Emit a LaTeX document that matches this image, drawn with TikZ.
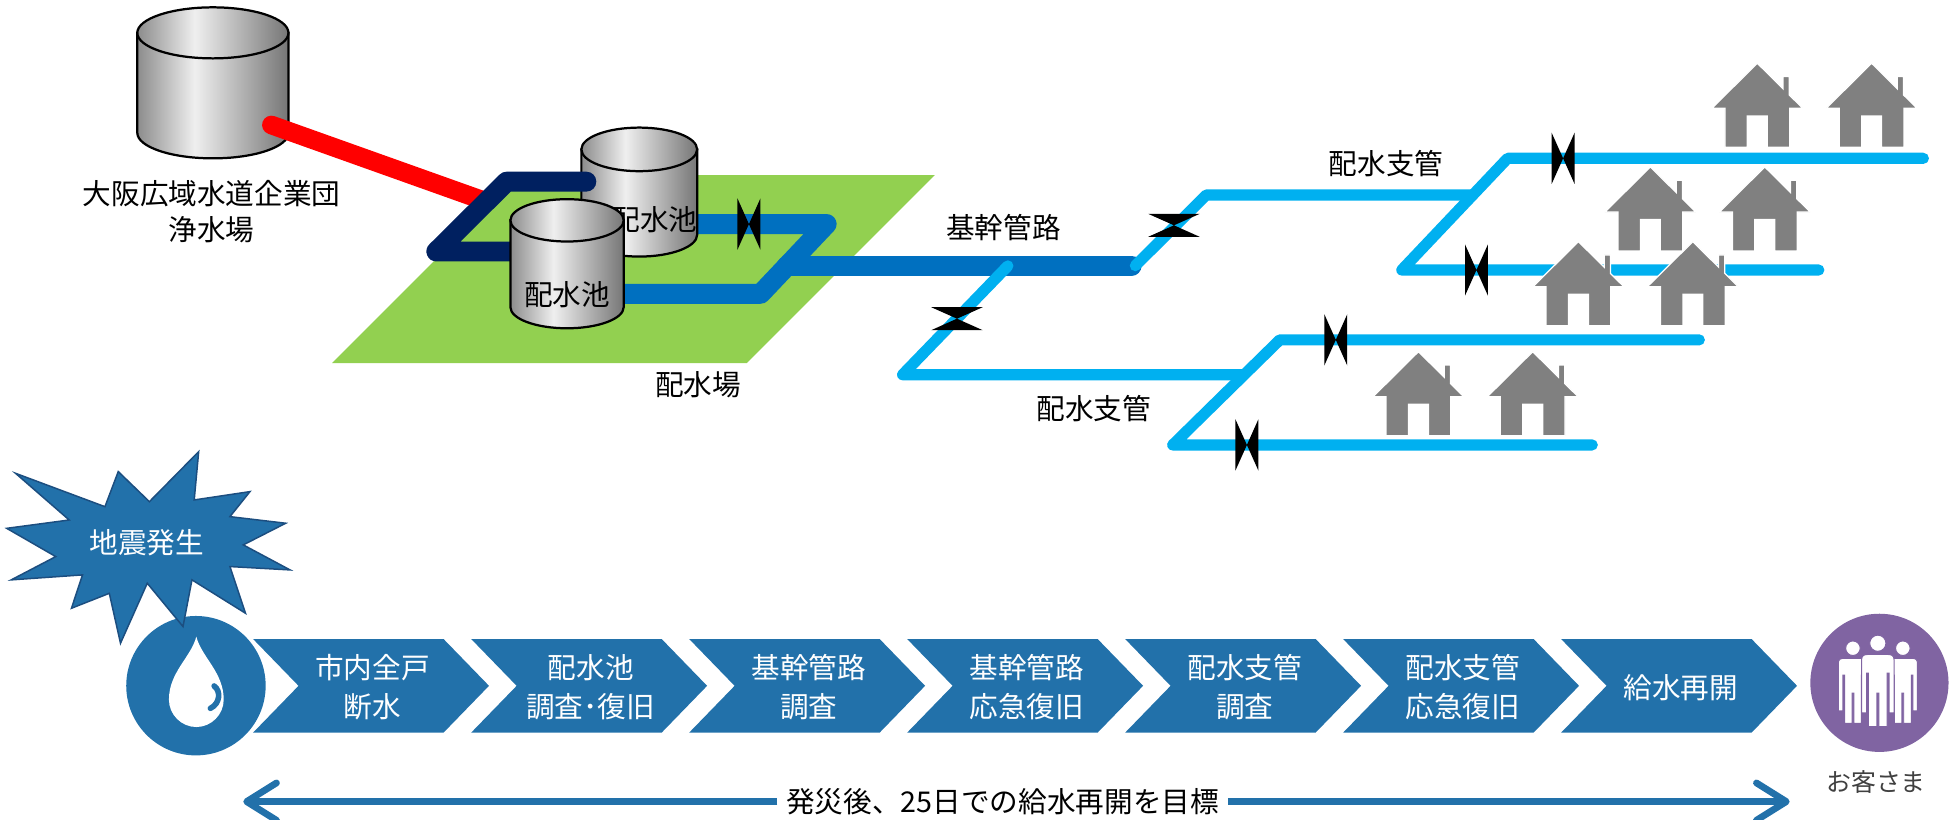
\documentclass[tikz,border=0pt]{standalone}
\usepackage{fontspec}
\setmainfont{Noto Sans CJK JP}
\usetikzlibrary{arrows.meta}

\definecolor{navypipe}{HTML}{002060}
\definecolor{mainpipe}{HTML}{0070C0}
\definecolor{branchpipe}{HTML}{00B0F0}
\definecolor{sitegreen}{HTML}{92D050}
\definecolor{flowblue}{RGB}{34,113,170}
\definecolor{starline}{RGB}{28,78,128}
\definecolor{custpurple}{HTML}{8064A2}
\definecolor{housegray}{HTML}{808080}
\definecolor{tankdark}{HTML}{8C8C8C}
\definecolor{tanklight}{HTML}{EFEFEF}
\definecolor{tankshadow}{HTML}{767676}

\pgfdeclarehorizontalshading{tankshade}{100bp}{color(0bp)=(tankdark); color(25bp)=(tankdark); color(44bp)=(tanklight); color(75bp)=(tankshadow); color(100bp)=(tankshadow)}

% #1 centre x, #2 top y, #3 bottom y, #4 x radius, #5 y radius
\newcommand{\drawtank}[5]{%
  \shadedraw[shading=tankshade, draw=black, line width=1.8pt]
    (#1-#4,#2) -- (#1-#4,#3) arc[start angle=180, end angle=360, x radius=#4pt, y radius=#5pt] -- (#1+#4,#2) -- cycle;
  \shadedraw[shading=tankshade, draw=black, line width=1.8pt] (#1,#2) ellipse[x radius=#4pt, y radius=#5pt];
}

\tikzset{
  house/.pic={
    \path[fill=housegray, draw=white, line width=1pt]
      (0,-67.5) -- (20.7,-47) -- (20.7,-56.8) -- (25.7,-56.8) -- (25.7,-42) -- (36.5,-31.3)
      -- (26,-31.3) -- (26,0) -- (8,0) -- (8,-25.2) -- (-8,-25.2) -- (-8,0) -- (-26,0)
      -- (-26,-31.3) -- (-36.5,-31.3) -- cycle;
  },
  valve/.pic={
    \fill[black] (-9.2,-20.6) -- (0,0) -- (-9.2,20.6) -- cycle
                 (9.2,-20.6) -- (0,0) -- (9.2,20.6) -- cycle;
  },
  person/.pic={
    \path[fill=white, draw=custpurple, line width=0.8pt]
      (0,0) circle[radius=6.5pt]
      (-13,56) -- (-13,13) .. controls (-13,10) and (-11,9) .. (-8,9) -- (8,9)
      .. controls (11,9) and (13,10) .. (13,13) -- (13,56) -- (9,56) -- (9,24) -- (7.5,24)
      -- (7.5,67) -- (0.8,67) -- (0.8,40) -- (-0.8,40) -- (-0.8,67) -- (-7.5,67)
      -- (-7.5,24) -- (-9,24) -- (-9,56) -- cycle;
  },
}

\begin{document}
\begin{tikzpicture}[x=1pt, y=-1pt,
  pipetext/.style={font=\fontsize{23}{29}\selectfont, inner sep=0pt, align=center},
  steptext/.style={font=\fontsize{23}{31}\selectfont, text=white, inner sep=0pt, align=center},
  pipe/.style={line cap=round, line join=round}]
\useasboundingbox (0,0) rectangle (1568,658);

% distribution site
\fill[sitegreen] (418,140.6) -- (751,140.6) -- (600,291.6) -- (266.7,291.6) -- cycle;

% trunk main
\draw[pipe, mainpipe, line width=16pt] (555,180) -- (664,180) -- (611,236) -- (495,236);
\draw[pipe, mainpipe, line width=16pt] (632,213.4) -- (909,213.4);

% branch mains
\draw[pipe, branchpipe, line width=9pt] (912,213.4) -- (969,156.6) -- (1183,156.6);
\draw[pipe, branchpipe, line width=9pt] (1545,127.2) -- (1211,127.2) -- (1126,216.9) -- (1461,216.9);
\draw[pipe, branchpipe, line width=9pt] (809.6,213.6) -- (725,301) -- (999,301);
\draw[pipe, branchpipe, line width=9pt] (1365,273) -- (1028,273) -- (942,357.4) -- (1279,357.4);

% valves
\pic at (601.6,180) {valve};
\pic[rotate=90] at (943,181) {valve};
\pic[rotate=90] at (768.7,256) {valve};
\pic at (1255.6,127.2) {valve};
\pic at (1186,216.9) {valve};
\pic at (1073,273) {valve};
\pic at (1001.6,357.4) {valve};

% purification plant and its supply line
\drawtank{171}{26.4}{106.7}{60.7}{20.5}
\draw[pipe, red, line width=15pt] (218,100.4) -- (388,161);
\node[pipetext] (plantLbl) at (170,170) {大阪広域水道企業団\\浄水場};

% reservoirs
\drawtank{513.5}{120}{188.6}{46.5}{17.5}
\node[pipetext] (resB) at (525.6,176.7) {配水池};
\draw[pipe, navypipe, line width=16pt] (471,145.9) -- (407,145.9) -- (350.5,202) -- (420,202);
\drawtank{455.5}{177}{246.7}{45.5}{17}
\node[pipetext] (resA) at (455.5,237) {配水池};

\node[pipetext] (siteLbl) at (560.7,309) {配水場};
\node[pipetext] (trunkLbl) at (806,182.7) {基幹管路};
\node[pipetext] (branchUp) at (1113.5,131.7) {配水支管};
\node[pipetext] (branchLow) at (878.7,328.5) {配水支管};

% houses
\foreach \hx/\hy in {1411.6/118.3, 1503.4/118.3, 1325.7/201.6, 1417.6/201.6,
                     1267.9/261.6, 1359.8/261.6, 1139.4/350, 1231.2/350}
  \pic at (\hx,\hy) {house};

% restoration steps
\node[circle, fill=flowblue, minimum size=112pt, inner sep=0pt] (drop) at (157.4,550.8) {};
\fill[white] (157.7,511.4) .. controls (162,528) and (179.7,540) .. (179.7,562)
  .. controls (179.7,574) and (169.7,584) .. (157.7,584)
  .. controls (145.7,584) and (135.7,574) .. (135.7,562)
  .. controls (135.7,540) and (153.4,528) .. cycle;
\draw[flowblue, line width=4.5pt, line cap=round] (172,551) .. controls (177.5,555) and (177,565) .. (169,569);

\path[fill=flowblue, draw=starline, line width=1.2pt]
  (12.5,380.2) -- (84.3,407) -- (95,378.8) -- (120,403) -- (159.6,362.8) -- (156,401.6)
  -- (200.8,394.9) -- (184.7,415) -- (229.5,420.3) -- (195.4,437.7) -- (233,457.8)
  -- (184.7,455.1) -- (197.2,492.6) -- (154.2,465.8) -- (147,503.3) -- (118.3,468.5)
  -- (96.8,516.7) -- (87.8,476.6) -- (57.4,488.6) -- (66.3,461.8) -- (9,465.8)
  -- (44.8,447.1) -- (5.4,424.4) -- (55.6,417.7) -- cycle;
\node[pipetext, text=white] (quake) at (118,436) {地震発生};

\foreach \sx/\stxt [count=\i] in {203.3/{市内全戸\\断水}, 378.5/{配水池\\調査･復旧},
    553.6/{基幹管路\\調査}, 728.7/{基幹管路\\応急復旧}, 903.8/{配水支管\\調査},
    1078.9/{配水支管\\応急復旧}, 1254/{給水再開}} {
  \fill[flowblue] (\sx,513.3) -- ++(153,0) -- ++(36.5,37.6) -- ++(-36.5,37.6)
    -- ++(-153,0) -- ++(36.5,-37.6) -- cycle;
  \node[steptext] (stage\i) at (\sx+96,552) {\stxt};
}

% customers
\node[circle, fill=custpurple, minimum size=111pt, inner sep=0pt] (cust) at (1509.7,548.5) {};
\pic[scale=0.9] at (1488.4,520.7) {person};
\pic[scale=0.9] at (1528.5,520.7) {person};
\pic at (1508.4,516.7) {person};
\node[font=\fontsize{20}{24}\selectfont, text=black!75, inner sep=0pt] (custLbl) at (1507,628) {お客さま};

% target span
\coordinate (spanL) at (195.4,643.9);
\coordinate (spanR) at (1437.6,643.9);
\node[pipetext, inner xsep=7pt] (goal) at (805.4,643.9) {発災後、25日での給水再開を目標};
\draw[flowblue, line width=5.4pt, -{Straight Barb[length=24pt,width=30pt,round]}] (goal) -- (spanL);
\draw[flowblue, line width=5.4pt, -{Straight Barb[length=24pt,width=30pt,round]}] (goal) -- (spanR);
\end{tikzpicture}
\end{document}
